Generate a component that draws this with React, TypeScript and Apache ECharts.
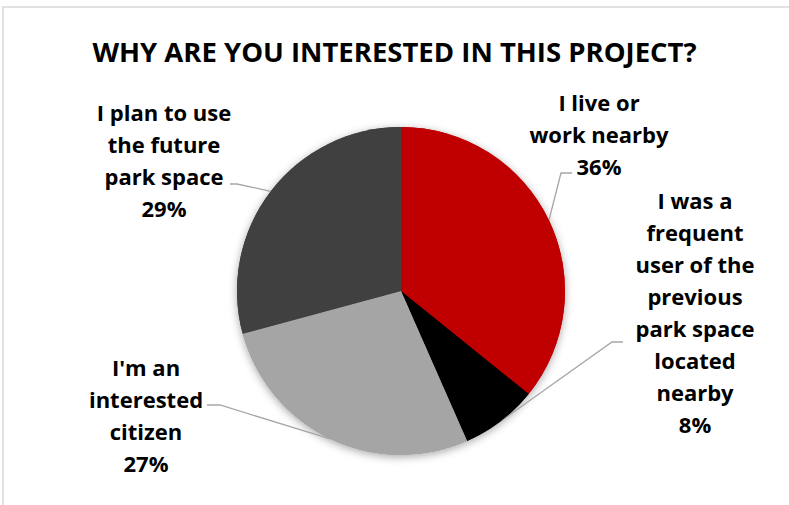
import React, { useEffect, useRef } from "react";
import * as echarts from "echarts";

// ---- data ----
const TITLE = "WHY ARE YOU INTERESTED IN THIS PROJECT?";
const categories = [
  "I live or work nearby",
  "I was a frequent user of the previous park space located nearby",
  "I'm an interested citizen",
  "I plan to use the future park space",
];
const labelLines = [
  "I live or\nwork nearby",
  "I was a\nfrequent\nuser of the\nprevious\npark space\nlocated\nnearby",
  "I'm an\ninterested\ncitizen",
  "I plan to use\nthe future\npark space",
];
const values = [35.8, 7.6, 27.4, 29.2];
const colors = ["#C00000", "#000000", "#A5A5A5", "#404040"];

// ---- layout (label placement, not data) ----
const LABEL_POS = [
  { x: 599, y: 134, elbow: [561, 173], attach: [572, 173] },
  { x: 695, y: 312, elbow: [612, 342], attach: [623, 342] },
  { x: 146, y: 415, elbow: [220, 405], attach: [207, 405] },
  { x: 164, y: 160, elbow: [237, 184], attach: [230, 184] },
];

const FONT = "'Open Sans', 'Liberation Sans', sans-serif";

export default function App() {
  const ref = useRef<HTMLDivElement>(null);
  useEffect(() => {
    if (!ref.current) return;
    const chart = echarts.init(ref.current, undefined, { renderer: "svg" });
    const data = categories.map((name, i) => ({
      name,
      value: values[i],
      itemStyle: { color: colors[i] },
    }));
    chart.setOption({
      animation: false,
      backgroundColor: "#ffffff",
      title: {
        text: TITLE,
        left: "center",
        top: 32,
        textStyle: {
          fontFamily: FONT,
          fontWeight: "bold",
          fontSize: 27.5,
          lineHeight: 29,
          color: "#000000",
        },
      },
      graphic: [
        {
          type: "rect",
          shape: { x: 3, y: 7, width: 800, height: 600 },
          style: { fill: "none", stroke: "#D9D9D9", lineWidth: 1.5 },
          silent: true,
          z: -1,
        },
      ],
      series: [
        {
          type: "pie",
          silent: true,
          center: [401, 291],
          radius: 164,
          startAngle: 90,
          clockwise: true,
          label: { show: false },
          labelLine: { show: false },
          itemStyle: {
            shadowBlur: 9,
            shadowOffsetY: 2,
            shadowColor: "rgba(0,0,0,0.35)",
          },
          data,
          z: 1,
        },
        {
          type: "pie",
          center: [401, 291],
          radius: 164,
          startAngle: 90,
          clockwise: true,
          percentPrecision: 0,
          avoidLabelOverlap: false,
          itemStyle: { borderWidth: 0 },
          label: {
            show: true,
            position: "outside",
            formatter: (p: any) => `${labelLines[p.dataIndex]}\n${p.percent}%`,
            fontFamily: FONT,
            fontWeight: "bold",
            fontSize: 22,
            lineHeight: 32,
            color: "#000000",
            align: "center",
          },
          labelLine: {
            show: true,
            length: 10,
            length2: 10,
            lineStyle: { color: "#A6A6A6", width: 1.3 },
          },
          labelLayout: (params: any) => {
            const p = LABEL_POS[params.dataIndex];
            const start = params.labelLinePoints && params.labelLinePoints[0];
            return {
              x: p.x,
              y: p.y,
              align: "center",
              verticalAlign: "middle",
              labelLinePoints: start ? [start, p.elbow, p.attach] : undefined,
            };
          },
          data,
          z: 2,
        },
      ],
    });
    return () => chart.dispose();
  }, []);
  return (
    <div
      ref={ref}
      style={{ position: "absolute", left: 0, top: 0, width: 789, height: 505 }}
    />
  );
}
